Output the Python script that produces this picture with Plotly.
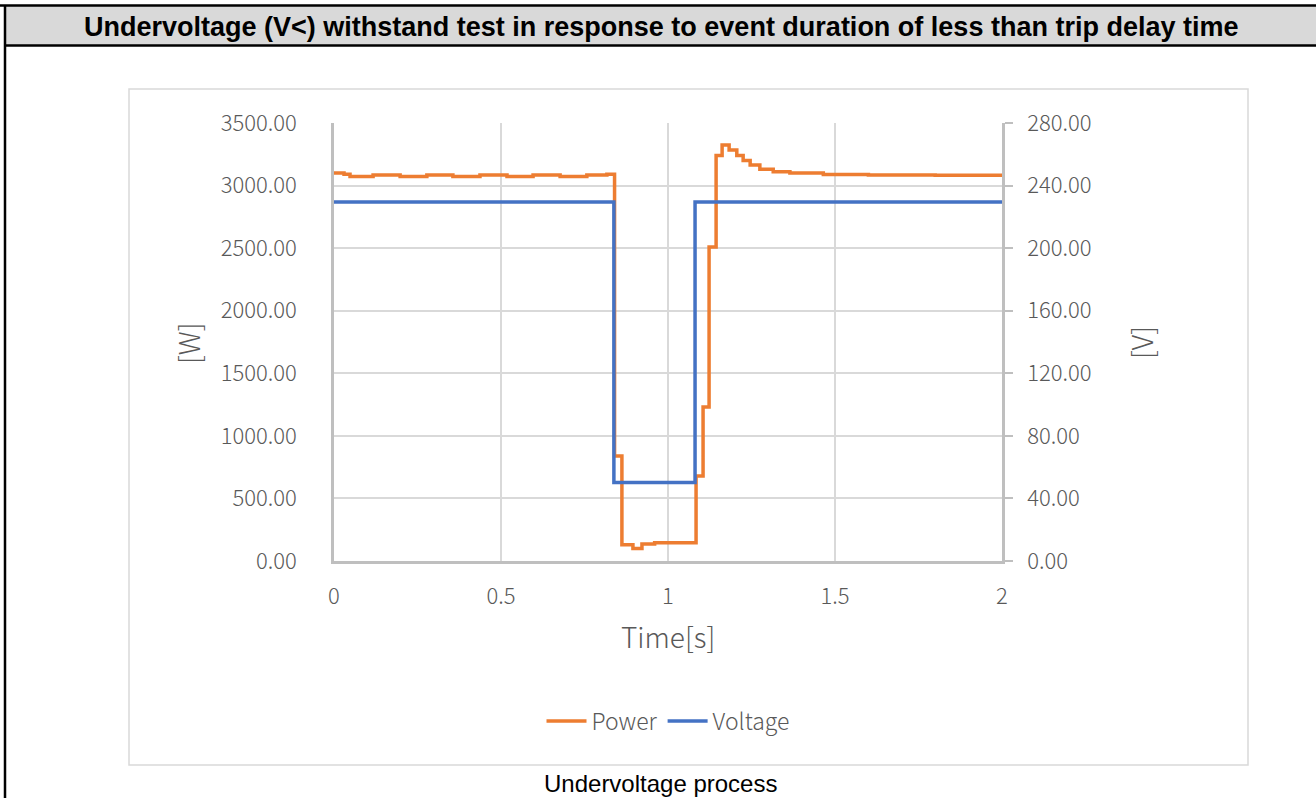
import plotly.graph_objects as go

# ---- data ----
time_power = [0, 0.03, 0.048, 0.117, 0.198, 0.278, 0.356, 0.437, 0.518, 0.596, 0.677, 0.757,
              0.817, 0.84, 0.862, 0.895, 0.922, 0.96, 1.084, 1.105, 1.123, 1.144, 1.162, 1.183,
              1.206, 1.225, 1.246, 1.275, 1.315, 1.365, 1.465, 1.6, 1.8, 2.0]
power_w = [3100, 3090, 3072, 3085, 3072, 3085, 3072, 3085, 3072, 3085, 3072, 3085,
           3090, 840, 130, 100, 135, 145, 680, 1230, 2510, 3240, 3325, 3285,
           3240, 3200, 3165, 3130, 3110, 3100, 3088, 3085, 3082, 3082]

time_voltage = [0, 0.838, 1.081, 2.0]
voltage_v = [229.5, 50.2, 229.5, 229.5]

x_ticks = [0, 0.5, 1, 1.5, 2]
y_left_ticks = [0, 500, 1000, 1500, 2000, 2500, 3000, 3500]
y_right_ticks = [0, 40, 80, 120, 160, 200, 240, 280]

W, H = 1316, 798
ORANGE = "#ED7D31"
BLUE = "#4472C4"
GRID = "#D9D9D9"
AXIS = "#BFBFBF"
TXT = "#595959"
FONT = "Noto Sans CJK SC"

fig = go.Figure()
fig.add_trace(go.Scatter(x=time_power, y=power_w, name="Power", mode="lines",
                         line=dict(color=ORANGE, width=3.5, shape="hv"), yaxis="y"))
fig.add_trace(go.Scatter(x=time_voltage, y=voltage_v, name="Voltage", mode="lines",
                         line=dict(color=BLUE, width=3.5, shape="hv"), yaxis="y2"))

px_l, px_r = 334, 1002
py_t, py_b = 123, 561

tickfont = dict(family=FONT, size=22, color=TXT, weight=300)

fig.update_layout(
    width=W, height=H,
    margin=dict(l=0, r=0, t=0, b=0, pad=0, autoexpand=False),
    paper_bgcolor="white", plot_bgcolor="white",
    font=dict(family=FONT, color=TXT),
    showlegend=True,
    legend=dict(orientation="h", x=668 / W, y=1 - 721 / H, xanchor="center", yanchor="middle",
                font=dict(family=FONT, size=23, color=TXT, weight=300), itemwidth=40,
                bgcolor="rgba(0,0,0,0)"),
    xaxis=dict(domain=[px_l / W, px_r / W], range=[0, 2], tickvals=x_ticks,
               ticktext=[str(v) for v in x_ticks], showgrid=True, gridcolor=GRID, gridwidth=2,
               showline=True, linecolor=AXIS, linewidth=3, zeroline=False, ticks="",
               tickfont=tickfont, ticklabelstandoff=14),
    yaxis=dict(domain=[1 - py_b / H, 1 - py_t / H], range=[0, 3500], tickvals=y_left_ticks,
               tickformat=".2f", showgrid=True, gridcolor=GRID, gridwidth=2,
               showline=True, linecolor=AXIS, linewidth=2.5, zeroline=False, ticks="",
               tickfont=tickfont, ticklabelstandoff=30),
    yaxis2=dict(overlaying="y", side="right", anchor="x", range=[0, 280], tickvals=y_right_ticks,
                tickformat=".2f", showgrid=False, showline=True, linecolor=AXIS, linewidth=2.5,
                zeroline=False, ticks="outside", ticklen=8, tickcolor=AXIS, tickwidth=2,
                tickfont=tickfont, ticklabelstandoff=10),
)

# outer table frame and header
fig.add_shape(type="rect", xref="paper", yref="paper", x0=5 / W, x1=1.02, y0=1 - 45.5 / H, y1=1 - 5.5 / H,
              fillcolor="#D9D9D9", line=dict(width=0), layer="below")
fig.add_shape(type="line", xref="paper", yref="paper", x0=0, x1=1.02, y0=1 - 5.5 / H, y1=1 - 5.5 / H,
              line=dict(color="black", width=2.5))
fig.add_shape(type="line", xref="paper", yref="paper", x0=5 / W, x1=1.02, y0=1 - 45.5 / H, y1=1 - 45.5 / H,
              line=dict(color="black", width=2.5))
fig.add_shape(type="line", xref="paper", yref="paper", x0=5 / W, x1=5 / W, y0=-0.02, y1=1 - 5.5 / H,
              line=dict(color="black", width=2.5))
# chart area frame
fig.add_shape(type="rect", xref="paper", yref="paper", x0=129 / W, x1=1248 / W, y0=1 - 765 / H, y1=1 - 89 / H,
              line=dict(color=GRID, width=1.5), layer="below")

fig.add_annotation(text="<b>Undervoltage (V&lt;) withstand test in response to event duration of less than trip delay time</b>",
                   xref="paper", yref="paper", x=661 / W, y=1 - 27 / H, showarrow=False,
                   font=dict(family="Liberation Sans", size=27, color="black"), xanchor="center", yanchor="middle")
fig.add_annotation(text="Undervoltage process", xref="paper", yref="paper", x=660 / W, y=1 - 783 / H,
                   showarrow=False, font=dict(family="Liberation Sans", size=24, color="black"),
                   xanchor="center", yanchor="middle")
# axis titles
fig.add_annotation(text="Time[s]", xref="paper", yref="paper", x=668 / W, y=1 - 636 / H, showarrow=False,
                   font=dict(family=FONT, size=28, color=TXT, weight=300), xanchor="center", yanchor="middle")
fig.add_annotation(text="[W]", xref="paper", yref="paper", x=188 / W, y=1 - 343 / H, showarrow=False,
                   textangle=-90, font=dict(family=FONT, size=28, color=TXT, weight=300),
                   xanchor="center", yanchor="middle")
fig.add_annotation(text="[V]", xref="paper", yref="paper", x=1141 / W, y=1 - 343 / H, showarrow=False,
                   textangle=-90, font=dict(family=FONT, size=28, color=TXT, weight=300),
                   xanchor="center", yanchor="middle")

fig.write_html("out.html", config={"displayModeBar": False},
               post_script="document.body.style.margin='0';document.body.style.overflow='hidden';")
